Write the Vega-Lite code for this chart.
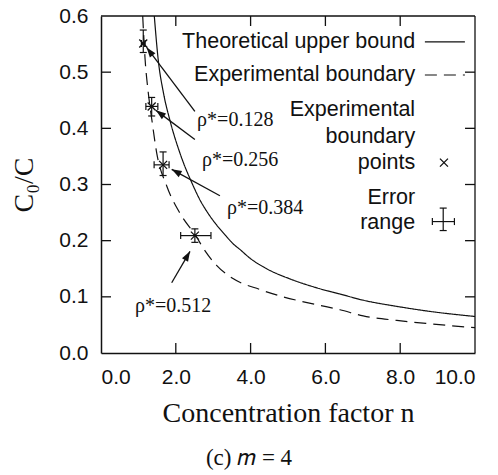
{
  "$schema": "https://vega.github.io/schema/vega-lite/v6.json",
  "width": 374,
  "height": 337,
  "autosize": {"type": "none"},
  "padding": {"left": 101, "top": 16, "right": 23, "bottom": 122},
  "background": "white",
  "config": {"view": {"stroke": null}},
  "title": {
    "text": "(c) 𝑚  =  4",
    "orient": "bottom",
    "anchor": "middle",
    "dx": -39,
    "offset": 20,
    "font": "Liberation Serif",
    "fontSize": 23,
    "fontWeight": "normal",
    "color": "#111"
  },
  "datasets": {
    "curves": [
      {"group": "theory", "style": "solid", "n": 1.425, "c": 0.6},
      {"group": "theory", "style": "solid", "n": 1.53, "c": 0.522},
      {"group": "theory", "style": "solid", "n": 1.67, "c": 0.463},
      {"group": "theory", "style": "solid", "n": 1.84, "c": 0.415},
      {"group": "theory", "style": "solid", "n": 2.11, "c": 0.356},
      {"group": "theory", "style": "solid", "n": 2.47, "c": 0.297},
      {"group": "theory", "style": "solid", "n": 2.65, "c": 0.272},
      {"group": "theory", "style": "solid", "n": 2.83, "c": 0.252},
      {"group": "theory", "style": "solid", "n": 3.09, "c": 0.228},
      {"group": "theory", "style": "solid", "n": 3.27, "c": 0.214},
      {"group": "theory", "style": "solid", "n": 3.54, "c": 0.194},
      {"group": "theory", "style": "solid", "n": 3.72, "c": 0.184},
      {"group": "theory", "style": "solid", "n": 3.98, "c": 0.169},
      {"group": "theory", "style": "solid", "n": 4.43, "c": 0.15},
      {"group": "theory", "style": "solid", "n": 5.05, "c": 0.132},
      {"group": "theory", "style": "solid", "n": 5.77, "c": 0.116},
      {"group": "theory", "style": "solid", "n": 6.39, "c": 0.105},
      {"group": "theory", "style": "solid", "n": 7.01, "c": 0.094},
      {"group": "theory", "style": "solid", "n": 7.91, "c": 0.083},
      {"group": "theory", "style": "solid", "n": 8.8, "c": 0.074},
      {"group": "theory", "style": "solid", "n": 10, "c": 0.065},
      {"group": "exp", "style": "dashed", "n": 1.115, "c": 0.6},
      {"group": "exp", "style": "dashed", "n": 1.18, "c": 0.522},
      {"group": "exp", "style": "dashed", "n": 1.265, "c": 0.463},
      {"group": "exp", "style": "dashed", "n": 1.36, "c": 0.415},
      {"group": "exp", "style": "dashed", "n": 1.49, "c": 0.356},
      {"group": "exp", "style": "dashed", "n": 1.76, "c": 0.297},
      {"group": "exp", "style": "dashed", "n": 2.11, "c": 0.249},
      {"group": "exp", "style": "dashed", "n": 2.56, "c": 0.206},
      {"group": "exp", "style": "dashed", "n": 2.74, "c": 0.186},
      {"group": "exp", "style": "dashed", "n": 3.09, "c": 0.156},
      {"group": "exp", "style": "dashed", "n": 3.54, "c": 0.132},
      {"group": "exp", "style": "dashed", "n": 4.25, "c": 0.113},
      {"group": "exp", "style": "dashed", "n": 4.87, "c": 0.1},
      {"group": "exp", "style": "dashed", "n": 5.77, "c": 0.086},
      {"group": "exp", "style": "dashed", "n": 6.39, "c": 0.077},
      {"group": "exp", "style": "dashed", "n": 7.01, "c": 0.066},
      {"group": "exp", "style": "dashed", "n": 7.91, "c": 0.058},
      {"group": "exp", "style": "dashed", "n": 8.8, "c": 0.052},
      {"group": "exp", "style": "dashed", "n": 10, "c": 0.045},
      {"group": "key-theory", "style": "solid", "n": 8.66, "c": 0.554},
      {"group": "key-theory", "style": "solid", "n": 9.73, "c": 0.554},
      {"group": "key-exp", "style": "dashed", "n": 8.66, "c": 0.495},
      {"group": "key-exp", "style": "dashed", "n": 9.73, "c": 0.495}
    ],
    "points": [
      {"role": "data", "n": 1.13, "c": 0.551, "nlo": 1.08, "nhi": 1.18, "clo": 0.535, "chi": 0.575},
      {"role": "data", "n": 1.355, "c": 0.439, "nlo": 1.2, "nhi": 1.52, "clo": 0.422, "chi": 0.455},
      {"role": "data", "n": 1.66, "c": 0.335, "nlo": 1.42, "nhi": 1.82, "clo": 0.316, "chi": 0.358},
      {"role": "data", "n": 2.51, "c": 0.209, "nlo": 2.13, "nhi": 2.94, "clo": 0.197, "chi": 0.221},
      {"role": "key-x", "n": 9.17, "c": 0.339},
      {"role": "key-err", "n": 9.15, "c": 0.234, "nlo": 8.86, "nhi": 9.45, "clo": 0.218, "chi": 0.258}
    ],
    "arrows": [
      {"label": "ρ*=0.128", "n0": 2.51, "c0": 0.43, "n1": 1.22, "c1": 0.544, "tn": 2.57, "tc": 0.415},
      {"label": "ρ*=0.256", "n0": 2.51, "c0": 0.38, "n1": 1.47, "c1": 0.432, "tn": 2.7, "tc": 0.344},
      {"label": "ρ*=0.384", "n0": 3.18, "c0": 0.28, "n1": 1.89, "c1": 0.327, "tn": 3.37, "tc": 0.259},
      {"label": "ρ*=0.512", "n0": 1.89, "c0": 0.125, "n1": 2.38, "c1": 0.181, "tn": 0.91, "tc": 0.083},
      {"label": "", "n0": 0, "c0": 0.6, "n1": 10, "c1": 0.6},
      {"label": "", "n0": 10, "c0": 0, "n1": 10, "c1": 0.6},
      {"label": "", "n0": 2, "c0": 0, "n1": 2, "c1": 0.0178},
      {"label": "", "n0": 4, "c0": 0, "n1": 4, "c1": 0.0178},
      {"label": "", "n0": 6, "c0": 0, "n1": 6, "c1": 0.0178},
      {"label": "", "n0": 8, "c0": 0, "n1": 8, "c1": 0.0178},
      {"label": "", "n0": 2, "c0": 0.6, "n1": 2, "c1": 0.5822},
      {"label": "", "n0": 4, "c0": 0.6, "n1": 4, "c1": 0.5822},
      {"label": "", "n0": 6, "c0": 0.6, "n1": 6, "c1": 0.5822},
      {"label": "", "n0": 8, "c0": 0.6, "n1": 8, "c1": 0.5822},
      {"label": "", "n0": 0, "c0": 0.1, "n1": 0.267, "c1": 0.1},
      {"label": "", "n0": 0, "c0": 0.2, "n1": 0.267, "c1": 0.2},
      {"label": "", "n0": 0, "c0": 0.3, "n1": 0.267, "c1": 0.3},
      {"label": "", "n0": 0, "c0": 0.4, "n1": 0.267, "c1": 0.4},
      {"label": "", "n0": 0, "c0": 0.5, "n1": 0.267, "c1": 0.5},
      {"label": "", "n0": 10, "c0": 0.1, "n1": 9.733, "c1": 0.1},
      {"label": "", "n0": 10, "c0": 0.2, "n1": 9.733, "c1": 0.2},
      {"label": "", "n0": 10, "c0": 0.3, "n1": 9.733, "c1": 0.3},
      {"label": "", "n0": 10, "c0": 0.4, "n1": 9.733, "c1": 0.4},
      {"label": "", "n0": 10, "c0": 0.5, "n1": 9.733, "c1": 0.5}
    ],
    "keytext": [
      {"text": "Theoretical upper bound", "n": 8.4, "c": 0.554},
      {"text": "Experimental boundary", "n": 8.4, "c": 0.495},
      {"text": "Experimental", "n": 8.4, "c": 0.433},
      {"text": "boundary", "n": 8.4, "c": 0.385},
      {"text": "points", "n": 8.4, "c": 0.339},
      {"text": "Error", "n": 8.4, "c": 0.276},
      {"text": "range", "n": 8.4, "c": 0.231}
    ]
  },
  "resolve": {"axis": {"x": "independent", "y": "independent"}},
  "layer": [
    {
      "data": {"name": "curves"},
      "mark": {"type": "line", "color": "#111", "strokeWidth": 1.2, "interpolate": "monotone", "clip": true},
      "encoding": {
        "x": {"field": "n", "type": "quantitative", "scale": {"domain": [0, 10], "nice": false},
          "axis": {"orient": "bottom", "values": [0, 2, 4, 6, 8, 10], "format": ".1f", "ticks": false, "grid": false,
            "domainColor": "#111", "domainWidth": 1.5, "labelPadding": 13, "labelFont": "Liberation Sans", "labelFontSize": 21, "labelColor": "#111",
            "title": "Concentration factor n", "titlePadding": 12, "titleFont": "Liberation Serif", "titleFontSize": 28, "titleFontWeight": "normal", "titleColor": "#111"}},
        "y": {"field": "c", "type": "quantitative", "scale": {"domain": [0, 0.6], "nice": false},
          "axis": {"orient": "left", "values": [0, 0.1, 0.2, 0.3, 0.4, 0.5, 0.6], "format": ".1f", "ticks": false, "grid": false,
            "domainColor": "#111", "domainWidth": 1.5, "labelPadding": 13, "labelFont": "Liberation Sans", "labelFontSize": 21, "labelColor": "#111",
            "title": "C₀/C", "titlePadding": 20, "titleFont": "Liberation Serif", "titleFontSize": 28, "titleFontWeight": "normal", "titleColor": "#111"}},
        "detail": {"field": "group"},
        "strokeDash": {"field": "style", "type": "nominal", "scale": {"domain": ["solid", "dashed"], "range": [[1, 0], [12, 7]]}, "legend": null}
      }
    },
    {
      "data": {"name": "keytext"},
      "mark": {"type": "text", "align": "right", "baseline": "middle", "font": "Liberation Sans", "fontSize": 21.5, "color": "#111"},
      "encoding": {
        "x": {"field": "n", "type": "quantitative", "axis": null},
        "y": {"field": "c", "type": "quantitative", "axis": null},
        "text": {"field": "text"}
      }
    },
    {
      "data": {"name": "points"},
      "transform": [{"filter": "datum.role != 'key-x'"}],
      "mark": {"type": "rule", "color": "#111", "strokeWidth": 1.2},
      "encoding": {
        "x": {"field": "n", "type": "quantitative", "axis": null},
        "y": {"field": "clo", "type": "quantitative", "axis": null},
        "y2": {"field": "chi"}
      }
    },
    {
      "data": {"name": "points"},
      "transform": [{"filter": "datum.role != 'key-x'"}],
      "mark": {"type": "rule", "color": "#111", "strokeWidth": 1.2},
      "encoding": {
        "x": {"field": "nlo", "type": "quantitative", "axis": null},
        "x2": {"field": "nhi"},
        "y": {"field": "c", "type": "quantitative", "axis": null}
      }
    },
    {
      "data": {"name": "points"},
      "transform": [{"filter": "datum.role != 'key-x'"}],
      "mark": {"type": "point", "shape": "M-1,0L1,0", "size": 49, "filled": false, "stroke": "#111", "strokeWidth": 1.2, "opacity": 1},
      "encoding": {"x": {"field": "n", "type": "quantitative", "axis": null}, "y": {"field": "clo", "type": "quantitative", "axis": null}}
    },
    {
      "data": {"name": "points"},
      "transform": [{"filter": "datum.role != 'key-x'"}],
      "mark": {"type": "point", "shape": "M-1,0L1,0", "size": 49, "filled": false, "stroke": "#111", "strokeWidth": 1.2, "opacity": 1},
      "encoding": {"x": {"field": "n", "type": "quantitative", "axis": null}, "y": {"field": "chi", "type": "quantitative", "axis": null}}
    },
    {
      "data": {"name": "points"},
      "transform": [{"filter": "datum.role != 'key-x'"}],
      "mark": {"type": "point", "shape": "M0,-1L0,1", "size": 49, "filled": false, "stroke": "#111", "strokeWidth": 1.2, "opacity": 1},
      "encoding": {"x": {"field": "nlo", "type": "quantitative", "axis": null}, "y": {"field": "c", "type": "quantitative", "axis": null}}
    },
    {
      "data": {"name": "points"},
      "transform": [{"filter": "datum.role != 'key-x'"}],
      "mark": {"type": "point", "shape": "M0,-1L0,1", "size": 49, "filled": false, "stroke": "#111", "strokeWidth": 1.2, "opacity": 1},
      "encoding": {"x": {"field": "nhi", "type": "quantitative", "axis": null}, "y": {"field": "c", "type": "quantitative", "axis": null}}
    },
    {
      "data": {"name": "points"},
      "transform": [{"filter": "datum.role != 'key-err'"}],
      "mark": {"type": "point", "shape": "M-1,-1L1,1M-1,1L1,-1", "size": 64, "filled": false, "stroke": "#111", "strokeWidth": 1.3, "opacity": 1},
      "encoding": {"x": {"field": "n", "type": "quantitative", "axis": null}, "y": {"field": "c", "type": "quantitative", "axis": null}}
    },
    {
      "data": {"name": "arrows"},
      "mark": {"type": "rule", "color": "#111", "strokeWidth": 1.3},
      "encoding": {
        "x": {"field": "n0", "type": "quantitative", "axis": null},
        "y": {"field": "c0", "type": "quantitative", "axis": null},
        "x2": {"field": "n1"},
        "y2": {"field": "c1"}
      }
    },
    {
      "data": {"name": "arrows"},
      "transform": [{"filter": "datum.label == 'ρ*=0.128'"}],
      "mark": {"type": "point", "shape": "M0,0L-0.35,1L0.35,1Z", "size": 400, "filled": true, "color": "#111", "opacity": 1, "angle": 323},
      "encoding": {"x": {"field": "n1", "type": "quantitative", "axis": null}, "y": {"field": "c1", "type": "quantitative", "axis": null}}
    },
    {
      "data": {"name": "arrows"},
      "transform": [{"filter": "datum.label == 'ρ*=0.256'"}],
      "mark": {"type": "point", "shape": "M0,0L-0.35,1L0.35,1Z", "size": 400, "filled": true, "color": "#111", "opacity": 1, "angle": 307},
      "encoding": {"x": {"field": "n1", "type": "quantitative", "axis": null}, "y": {"field": "c1", "type": "quantitative", "axis": null}}
    },
    {
      "data": {"name": "arrows"},
      "transform": [{"filter": "datum.label == 'ρ*=0.384'"}],
      "mark": {"type": "point", "shape": "M0,0L-0.35,1L0.35,1Z", "size": 400, "filled": true, "color": "#111", "opacity": 1, "angle": 299},
      "encoding": {"x": {"field": "n1", "type": "quantitative", "axis": null}, "y": {"field": "c1", "type": "quantitative", "axis": null}}
    },
    {
      "data": {"name": "arrows"},
      "transform": [{"filter": "datum.label == 'ρ*=0.512'"}],
      "mark": {"type": "point", "shape": "M0,0L-0.35,1L0.35,1Z", "size": 400, "filled": true, "color": "#111", "opacity": 1, "angle": 30},
      "encoding": {"x": {"field": "n1", "type": "quantitative", "axis": null}, "y": {"field": "c1", "type": "quantitative", "axis": null}}
    },
    {
      "data": {"name": "arrows"},
      "transform": [{"filter": "datum.label != ''"}],
      "mark": {"type": "text", "align": "left", "baseline": "middle", "font": "Liberation Serif", "fontSize": 20, "color": "#111"},
      "encoding": {
        "x": {"field": "tn", "type": "quantitative", "axis": null},
        "y": {"field": "tc", "type": "quantitative", "axis": null},
        "text": {"field": "label"}
      }
    }
  ]
}
